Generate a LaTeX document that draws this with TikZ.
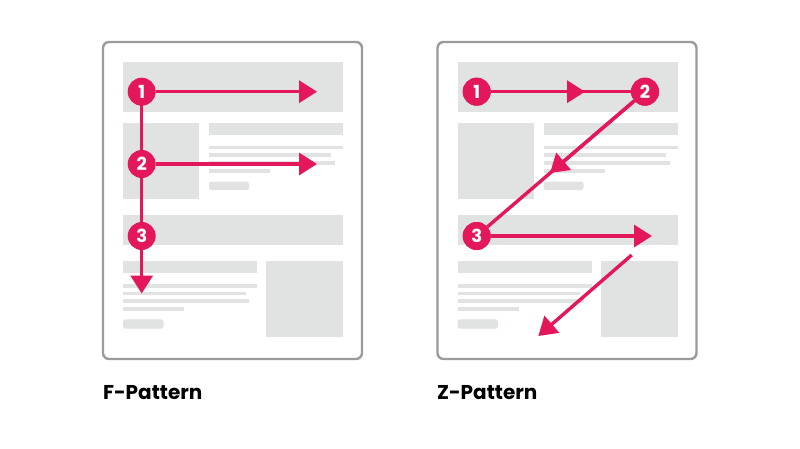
\documentclass[tikz,border=0pt]{standalone}
\usepackage{fontspec}
\setmainfont{Poppins}
\usetikzlibrary{arrows.meta}
\definecolor{pk}{HTML}{E3175A}
\definecolor{gf}{HTML}{E0E3E2}
\definecolor{fr}{HTML}{9B9B9B}
\tikzset{
  frame/.style={draw=fr,line width=2.4pt,rounded corners=6pt,fill=white},
  blk/.style={fill=gf,draw=none},
  btn/.style={fill=gf,draw=none,rounded corners=2.5pt},
  num/.style={circle,fill=pk,text=white,inner sep=0pt,minimum size=28pt,font=\bfseries\fontsize{18}{18}\selectfont},
  pline/.style={draw=pk,line width=3.4pt},
  parr/.style={draw=pk,line width=3.4pt,-{Triangle[length=18pt,width=22pt]}},
  lbl/.style={anchor=base west,inner sep=0pt,font=\bfseries\fontsize{20}{20}\selectfont},
}
\newcommand{\pagemock}[1]{%
  \begin{scope}[shift={(#1,0)}]
    \draw[frame] (103,42) rectangle (362,359);
    \fill[blk] (123,62) rectangle (343,112);
    \fill[blk] (123,123) rectangle (199,199);
    \fill[blk] (209,123) rectangle (343,135);
    \fill[blk] (209,145.5) rectangle (343,149);
    \fill[blk] (209,153.3) rectangle (331,156.8);
    \fill[blk] (209,161.2) rectangle (335,164.7);
    \fill[blk] (209,169) rectangle (270,172.5);
    \fill[btn] (209,181.5) rectangle (249,190);
    \fill[blk] (123,215) rectangle (343,245);
    \fill[blk] (123,261) rectangle (257,273);
    \fill[blk] (266,261) rectangle (343,337);
    \fill[blk] (123,284.3) rectangle (257,287.8);
    \fill[blk] (123,291.8) rectangle (245.5,295.3);
    \fill[blk] (123,299.3) rectangle (249,302.8);
    \fill[blk] (123,307) rectangle (184,310.5);
    \fill[btn] (123,319.3) rectangle (163.5,328.7);
  \end{scope}}
\begin{document}
\begin{tikzpicture}[x=1pt,y=-1pt]
\useasboundingbox (0,0) rectangle (800,448);
\fill[white] (0,0) rectangle (800,448);
\pagemock{0}
\pagemock{334.5}
% F pattern
\coordinate (fend) at (141.7,293.5);
\coordinate (f1t) at (317,91.7);
\coordinate (f2t) at (317,164);
\draw[parr] (141.7,91.7) -- (fend);
\node[num] (f1) at (141.7,91.7) {1};
\node[num] (f2) at (141.7,164) {2};
\node[num] (f3) at (141.7,236) {3};
\draw[parr] (f1) -- (f1t);
\draw[parr] (f2) -- (f2t);
% Z pattern
\node[num] (z1) at (476.7,91.7) {1};
\node[num] (z2) at (645,91.7) {2};
\node[num] (z3) at (476.7,236) {3};
\coordinate (zm1) at (585,91.7);
\coordinate (zm2) at (550,173);
\coordinate (z3t) at (652,236);
\coordinate (z4s) at (631.7,255);
\coordinate (z4t) at (538.3,336);
\draw[pline] (z1) -- (z2);
\draw[parr] (z1) -- (zm1);
\draw[pline] (z2) -- (z3);
\draw[parr] (z2) -- (zm2);
\draw[parr] (z3) -- (z3t);
\draw[parr] (z4s) -- (z4t);
\node[num] at (z1) {1};
\node[num] at (z2) {2};
\node[num] at (z3) {3};
% labels
\node[lbl] (lf) at (103,399) {F-Pattern};
\node[lbl] (lz) at (437,399) {Z-Pattern};
\end{tikzpicture}
\end{document}
